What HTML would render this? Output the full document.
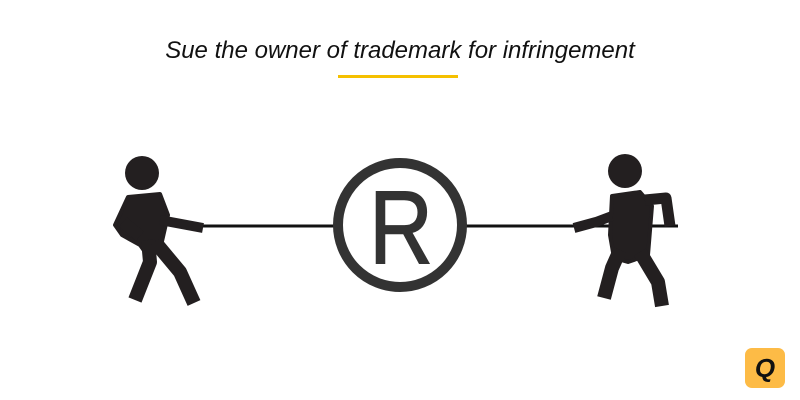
<!DOCTYPE html>
<html><head><style>
body{margin:0;width:800px;height:400px;background:#fff;overflow:hidden;position:relative;font-family:"Liberation Sans",sans-serif}
.t{position:absolute;left:0;width:800px;top:37px;text-align:center;font-style:italic;font-size:24px;color:#111}
</style></head><body>
<div class="t">Sue the owner of trademark for infringement</div>
<svg width="800" height="400" style="position:absolute;left:0;top:0">
<rect x="338" y="75" width="120" height="3" fill="#f5c000"/>
<line x1="200" y1="226" x2="340" y2="226" stroke="#111" stroke-width="3"/>
<line x1="460" y1="226" x2="678" y2="226" stroke="#111" stroke-width="3"/>
<circle cx="400" cy="225" r="62" fill="#fff" stroke="#333" stroke-width="10"/>
<text x="401" y="263" text-anchor="middle" font-size="104" font-family="Liberation Sans" fill="#333" stroke="#333" stroke-width="1.5" transform="translate(401 0) scale(0.85 1) translate(-401 0)">R</text>
<g fill="#231f20" stroke="#231f20" stroke-linejoin="round" stroke-linecap="butt">
<circle cx="142" cy="173" r="17" stroke="none"/>
<path d="M128 197 L160 194 L168 215 L160 250 L145 252 L140 245 L122 235 L115 225 Z" stroke-width="4"/>
<polyline points="123,222 140,236" fill="none" stroke-width="12"/>
<polyline points="160,220 203,228" fill="none" stroke-width="10"/>
<polyline points="148,240 150,262 135,300" fill="none" stroke-width="14"/>
<polyline points="155,242 180,272 194,303" fill="none" stroke-width="14"/>
<circle cx="625" cy="171" r="17" stroke="none"/>
<path d="M612 196 L640 192 L652 206 L648 255 L628 262 L614 258 L610 235 Z" stroke-width="4"/>
<polyline points="645,200 666,198 670,226" fill="none" stroke-width="11"/>
<polyline points="612,216 596,222 574,228" fill="none" stroke-width="10"/>
<polyline points="640,252 658,282 662,306" fill="none" stroke-width="14"/>
<polyline points="620,250 612,268 604,298" fill="none" stroke-width="14"/>
</g>
<rect x="745" y="348" width="40" height="40" rx="7" fill="#fdbb46"/>
<text x="765" y="377" text-anchor="middle" font-size="26" font-weight="bold" font-style="italic" font-family="Liberation Sans" fill="#111">Q</text>
</svg>
</body></html>
